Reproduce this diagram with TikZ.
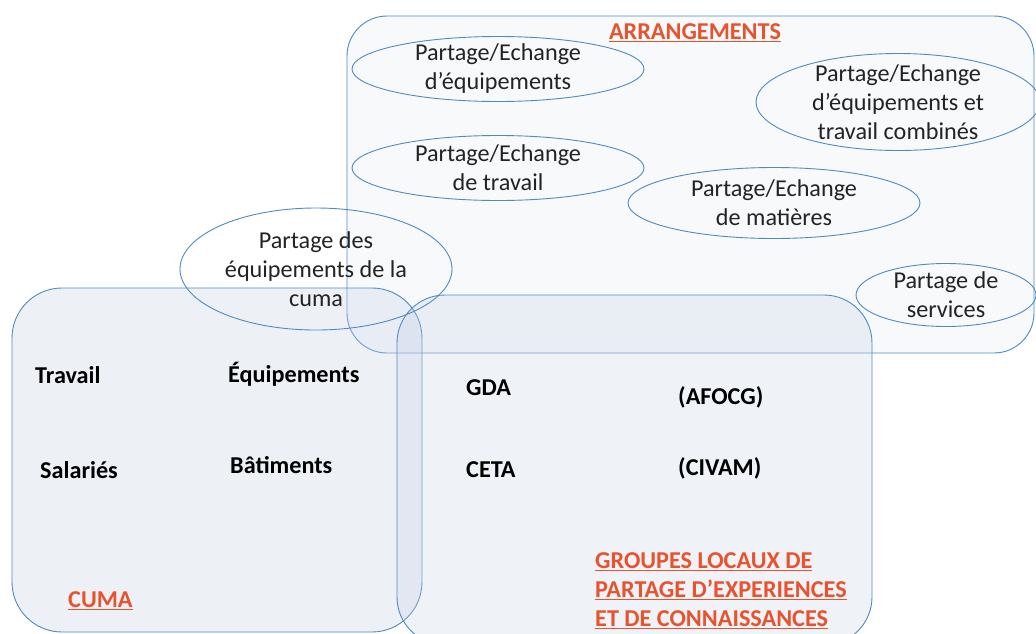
\documentclass[tikz,border=0pt]{standalone}
\usepackage{fontspec}
\setmainfont{Carlito}
\usetikzlibrary{shapes.geometric}
\definecolor{edge}{RGB}{78,138,196}
\definecolor{boxfill}{RGB}{196,207,226}
\definecolor{orangered}{RGB}{232,82,45}
\definecolor{txt}{RGB}{35,35,35}
\begin{document}
\begin{tikzpicture}[x=1pt,y=-1pt,
  region/.style={draw=edge, line width=0.9pt, fill=boxfill, inner sep=0pt, rounded corners=#1},
  oval/.style={draw=edge, line width=0.9pt, ellipse, inner sep=0pt},
  ovaltext/.style={text=txt, font=\fontsize{24.2}{29}\selectfont, align=center, inner sep=0pt},
  item/.style={anchor=west, font=\fontsize{24.2}{28}\selectfont\bfseries, text=black, inner sep=0pt},
  title/.style={font=\fontsize{24.2}{29}\selectfont\bfseries, text=orangered, inner sep=0pt, align=left}
]
\useasboundingbox (0,0) rectangle (1036,633);
% regions
\node[region=40pt, fill opacity=0.13, minimum width=687pt, minimum height=337pt] (arr) at (690.5,184.5) {};
\node[region=50pt, fill opacity=0.3, minimum width=410pt, minimum height=344pt] (cuma) at (217,460) {};
\node[region=48pt, fill opacity=0.27, minimum width=475pt, minimum height=350pt] (grp) at (634.5,470) {};
% ellipses
\node[oval, minimum width=292pt, minimum height=65pt] (e1) at (498,69) {};
\node[ovaltext] at (e1) {Partage/Echange\\d’équipements};
\node[oval, minimum width=292pt, minimum height=65pt] (e2) at (498,168) {};
\node[ovaltext] at (e2) {Partage/Echange\\de travail};
\node[oval, minimum width=284pt, minimum height=97pt] (e3) at (898,102) {};
\node[ovaltext] at (e3) {Partage/Echange\\d’équipements et\\travail combinés};
\node[oval, minimum width=292pt, minimum height=71pt] (e4) at (774,203) {};
\node[ovaltext] at (e4) {Partage/Echange\\de matières};
\node[oval, minimum width=180pt, minimum height=63pt] (e5) at (946,295) {};
\node[ovaltext] at (e5) {Partage de\\services};
\node[oval, minimum width=272pt, minimum height=122pt] (e6) at (316,269) {};
\node[ovaltext] at (e6) {Partage des\\équipements de la\\cuma};
% titles
\node[title] (tarr) at (695,33) {\underline{ARRANGEMENTS}};
\node[title, anchor=west] (tcuma) at (68,601) {\underline{CUMA}};
\node[title, anchor=west] (tgrp) at (595,591) {\underline{GROUPES LOCAUX DE}\\\underline{PARTAGE D’EXPERIENCES}\\\underline{ET DE CONNAISSANCES}};
% items
\node[item] (i1) at (35,375) {Travail};
\node[item] (i2) at (228,374) {Équipements};
\node[item] (i3) at (40,470) {Salariés};
\node[item] (i4) at (230,465) {Bâtiments};
\node[item] (i5) at (466,388) {GDA};
\node[item] (i6) at (678,397) {(AFOCG)};
\node[item] (i7) at (466,470) {CETA};
\node[item] (i8) at (678,468) {(CIVAM)};
\end{tikzpicture}
\end{document}
